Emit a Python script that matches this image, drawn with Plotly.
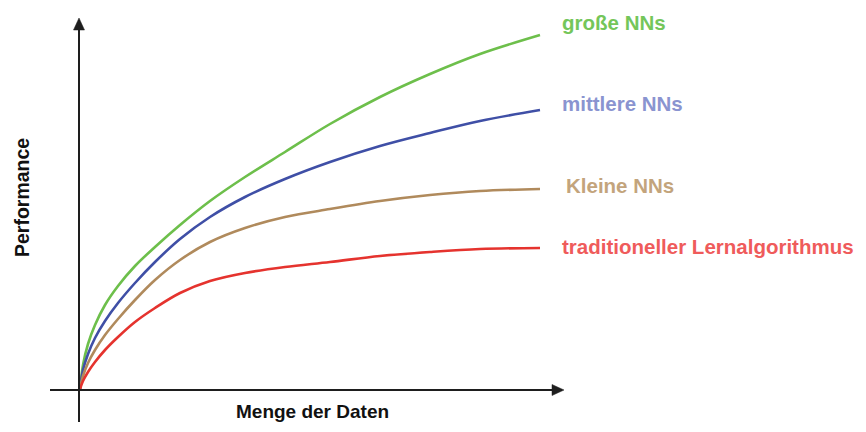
import plotly.graph_objects as go

# ---- data (relative units: amount of data 0..460, performance 0..354) ----
menge = [0, 3, 8, 15, 25, 38, 55, 75, 100, 130, 165, 205, 250, 300, 350, 400, 460]
gross = [0, 24, 45, 64, 84, 103, 123, 142, 164, 188, 212, 237, 265, 292, 315, 335, 354]
mittel = [0, 19, 35, 51, 68, 86, 106, 127, 150, 172, 192, 210, 227, 243, 256, 268, 279]
klein = [0, 13, 26, 39, 54, 70, 89, 109, 129, 147, 161, 172, 180, 188, 194, 198, 200]
tradit = [0, 8, 17, 27, 39, 52, 67, 81, 96, 108, 116, 122, 127, 133, 137, 140, 141]

series_names = ["große NNs", "mittlere NNs", "Kleine NNs", "traditioneller Lernalgorithmus"]
series_values = [gross, mittel, klein, tradit]
line_colors = ["#6dbf4b", "#3f4fa6", "#b08a5c", "#e5332e"]
label_colors = ["#74c65a", "#8a94d0", "#c3a47c", "#ef5b5b"]
x_title = "Menge der Daten"
y_title = "Performance"

W, H = 866, 432
OFF = 8  # page body margin


def px(x):
    return (x - OFF) / W


def py(y):
    return 1 - (y - OFF) / H


fig = go.Figure()
for name, vals, col in zip(series_names, series_values, line_colors):
    fig.add_trace(go.Scatter(x=menge, y=vals, mode="lines", name=name,
                             line=dict(color=col, width=2.6, shape="spline", smoothing=1.0),
                             hoverinfo="skip"))

axis_col = "#1e1e1e"
shapes = [
    dict(type="line", xref="paper", yref="paper", x0=px(79), x1=px(79), y0=py(422), y1=py(26),
         line=dict(color=axis_col, width=2)),
    dict(type="line", xref="paper", yref="paper", x0=px(50), x1=px(555), y0=py(390), y1=py(390),
         line=dict(color=axis_col, width=2)),
    dict(type="path", xref="paper", yref="paper",
         path=f"M {px(79)},{py(18)} L {px(73.5)},{py(30)} L {px(84.5)},{py(30)} Z",
         fillcolor=axis_col, line=dict(color=axis_col, width=0.5)),
    dict(type="path", xref="paper", yref="paper",
         path=f"M {px(564)},{py(390)} L {px(552)},{py(384.5)} L {px(552)},{py(395.5)} Z",
         fillcolor=axis_col, line=dict(color=axis_col, width=0.5)),
]

label_y_px = [22, 103, 185, 247]
label_x_px = [560, 560, 564, 560]
font_fam = "Liberation Sans, Arial, sans-serif"
annotations = []
for name, col, lx, ly in zip(series_names, label_colors, label_x_px, label_y_px):
    annotations.append(dict(text=f"<b>{name}</b>", xref="paper", yref="paper",
                            x=px(lx), y=py(ly), xanchor="left", yanchor="middle",
                            showarrow=False,
                            font=dict(family=font_fam, size=20.5, color=col)))
annotations.append(dict(text=f"<b>{x_title}</b>", xref="paper", yref="paper",
                        x=px(312), y=py(411), xanchor="center", yanchor="middle", showarrow=False,
                        font=dict(family=font_fam, size=19, color="#111")))
annotations.append(dict(text=f"<b>{y_title}</b>", xref="paper", yref="paper",
                        x=px(22), y=py(198), xanchor="center", yanchor="middle", showarrow=False,
                        textangle=-90,
                        font=dict(family=font_fam, size=19.5, color="#111")))

fig.update_layout(
    width=W, height=H,
    margin=dict(l=0, r=0, t=0, b=0),
    paper_bgcolor="white", plot_bgcolor="white",
    showlegend=False,
    # origin of the curves sits at page pixel (80, 389); 1 unit = 1 px
    xaxis=dict(range=[OFF - 80, W + OFF - 80], visible=False, fixedrange=True),
    yaxis=dict(range=[389 - H - OFF, 389 - OFF], visible=False, fixedrange=True),
    shapes=shapes,
    annotations=annotations,
)

fig.write_html("out.html")
